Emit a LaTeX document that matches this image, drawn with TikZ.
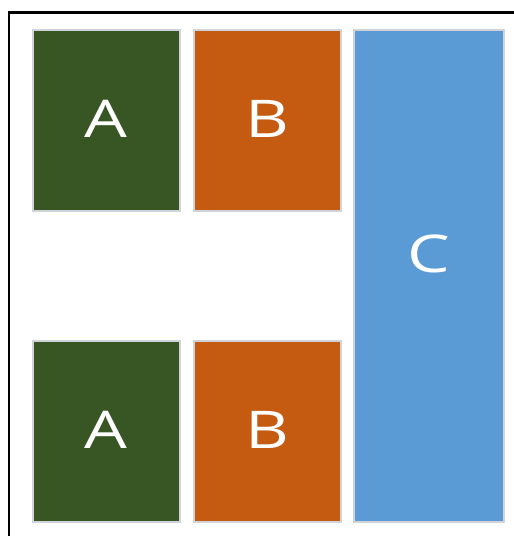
\documentclass[tikz,border=0pt]{standalone}
\usepackage{fontspec}
\setmainfont{Open Sans}
\definecolor{cgreen}{HTML}{385623}
\definecolor{corange}{HTML}{C55A11}
\definecolor{cblue}{HTML}{5B9BD5}
\definecolor{cedge}{HTML}{D0D4DA}
\tikzset{
  blk/.style={draw=cedge, line width=1.2pt},
  lbl/.style={text=white, font=\fontsize{52}{60}\selectfont, inner sep=0pt},
}
\begin{document}
\begin{tikzpicture}[x=1pt,y=-1pt]
\useasboundingbox (0,0) rectangle (514,536);
\fill[white] (0,0) rectangle (514,536);
\draw[line width=2.2pt] (9,536) -- (9,12.5) -- (514,12.5);
\draw[blk, fill=cgreen] (33,30) rectangle (180,211);
\draw[blk, fill=corange] (194,30) rectangle (341,211);
\draw[blk, fill=cgreen] (33,341) rectangle (180,522);
\draw[blk, fill=corange] (194,341) rectangle (341,522);
\draw[blk, fill=cblue] (354,30) rectangle (504,522);
\node[lbl] (a1) at (105.5,118.5) {\scalebox{1.3}[1]{A}};
\node[lbl] (b1) at (267.5,118.5) {\scalebox{1.3}[1]{B}};
\node[lbl] (a2) at (105.5,429.5) {\scalebox{1.3}[1]{A}};
\node[lbl] (b2) at (267.5,429.5) {\scalebox{1.3}[1]{B}};
\node[lbl] (c) at (429,254) {\scalebox{1.3}[1]{C}};
\end{tikzpicture}
\end{document}
